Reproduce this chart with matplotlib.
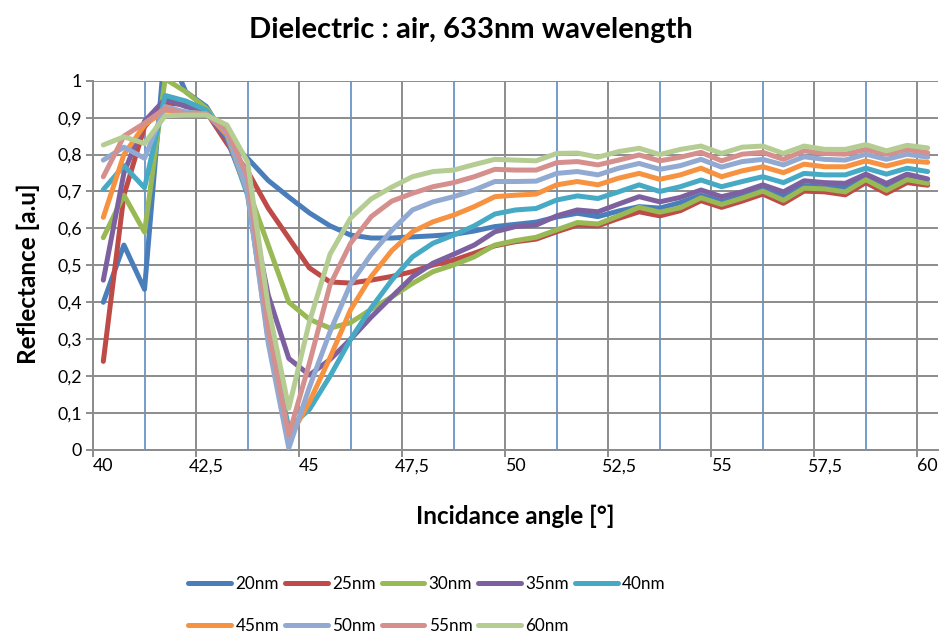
import matplotlib
matplotlib.use("Agg")
import matplotlib.pyplot as plt
from matplotlib.ticker import FixedLocator, FuncFormatter, NullFormatter

# ---------------- data ----------------
angles = [40.0, 40.5, 41.0, 41.5, 42.0, 42.5, 43.0, 43.5, 44.0, 44.5,
          45.0, 45.5, 46.0, 46.5, 47.0, 47.5, 48.0, 48.5, 49.0, 49.5,
          50.0, 50.5, 51.0, 51.5, 52.0, 52.5, 53.0, 53.5, 54.0, 54.5,
          55.0, 55.5, 56.0, 56.5, 57.0, 57.5, 58.0, 58.5, 59.0, 59.5, 60.0]

r20 = [0.40, 0.555, 0.435, 1.10, 0.97, 0.93, 0.84, 0.79, 0.73, 0.685,
       0.642, 0.607, 0.582, 0.574, 0.574, 0.577, 0.58, 0.584, 0.593, 0.605,
       0.611, 0.617, 0.631, 0.641, 0.632, 0.647, 0.659, 0.655, 0.67, 0.69,
       0.673, 0.687, 0.705, 0.687, 0.716, 0.712, 0.71, 0.735, 0.71, 0.735, 0.723]
r25 = [0.24, 0.69, 0.875, 0.94, 0.935, 0.915, 0.83, 0.755, 0.655, 0.574,
       0.493, 0.455, 0.452, 0.46, 0.47, 0.483, 0.501, 0.514, 0.533, 0.553,
       0.564, 0.571, 0.591, 0.609, 0.607, 0.627, 0.645, 0.634, 0.648, 0.675,
       0.657, 0.674, 0.693, 0.668, 0.701, 0.699, 0.691, 0.724, 0.695, 0.724, 0.717]
r30 = [0.575, 0.69, 0.59, 1.005, 0.97, 0.925, 0.85, 0.71, 0.555, 0.40,
       0.354, 0.33, 0.345, 0.381, 0.415, 0.451, 0.483, 0.501, 0.523, 0.555,
       0.567, 0.576, 0.596, 0.616, 0.612, 0.634, 0.657, 0.644, 0.656, 0.683,
       0.665, 0.682, 0.701, 0.676, 0.709, 0.707, 0.699, 0.732, 0.703, 0.732, 0.722]
r35 = [0.46, 0.75, 0.89, 0.95, 0.93, 0.915, 0.84, 0.70, 0.42, 0.248,
       0.203, 0.245, 0.30, 0.36, 0.415, 0.469, 0.506, 0.53, 0.555, 0.591,
       0.605, 0.609, 0.634, 0.65, 0.645, 0.666, 0.686, 0.672, 0.684, 0.704,
       0.686, 0.699, 0.718, 0.699, 0.729, 0.724, 0.722, 0.747, 0.722, 0.747, 0.734]
r40 = [0.705, 0.77, 0.71, 0.96, 0.945, 0.92, 0.85, 0.69, 0.32, 0.06,
       0.11, 0.20, 0.30, 0.385, 0.46, 0.523, 0.56, 0.582, 0.607, 0.639,
       0.65, 0.654, 0.677, 0.688, 0.681, 0.699, 0.718, 0.70, 0.713, 0.731,
       0.713, 0.727, 0.74, 0.724, 0.749, 0.745, 0.745, 0.763, 0.747, 0.763, 0.754]
r45 = [0.63, 0.80, 0.88, 0.92, 0.915, 0.91, 0.855, 0.70, 0.30, 0.03,
       0.13, 0.25, 0.38, 0.47, 0.54, 0.591, 0.618, 0.636, 0.659, 0.686,
       0.69, 0.693, 0.718, 0.727, 0.718, 0.736, 0.749, 0.733, 0.745, 0.763,
       0.74, 0.756, 0.767, 0.751, 0.774, 0.767, 0.767, 0.783, 0.769, 0.783, 0.779]
r50 = [0.785, 0.82, 0.79, 0.93, 0.915, 0.91, 0.86, 0.70, 0.29, 0.005,
       0.17, 0.32, 0.45, 0.53, 0.595, 0.65, 0.672, 0.686, 0.704, 0.727,
       0.727, 0.728, 0.749, 0.754, 0.745, 0.763, 0.776, 0.76, 0.77, 0.787,
       0.766, 0.781, 0.787, 0.772, 0.794, 0.787, 0.785, 0.801, 0.787, 0.801, 0.793]
r55 = [0.74, 0.85, 0.885, 0.925, 0.91, 0.91, 0.865, 0.74, 0.33, 0.04,
       0.235, 0.447, 0.56, 0.632, 0.674, 0.695, 0.713, 0.724, 0.74, 0.76,
       0.758, 0.758, 0.778, 0.781, 0.772, 0.785, 0.799, 0.783, 0.793, 0.806,
       0.783, 0.801, 0.806, 0.787, 0.81, 0.803, 0.801, 0.814, 0.801, 0.814, 0.805]
r60 = [0.826, 0.848, 0.83, 0.905, 0.907, 0.907, 0.88, 0.78, 0.39, 0.113,
       0.347, 0.53, 0.628, 0.68, 0.712, 0.74, 0.754, 0.758, 0.773, 0.787,
       0.785, 0.783, 0.803, 0.804, 0.793, 0.808, 0.817, 0.80, 0.814, 0.823,
       0.803, 0.82, 0.823, 0.803, 0.823, 0.814, 0.814, 0.827, 0.81, 0.825, 0.818]

series_labels = ["20nm", "25nm", "30nm", "35nm", "40nm", "45nm", "50nm", "55nm", "60nm"]
series_values = [r20, r25, r30, r35, r40, r45, r50, r55, r60]
series_colors = ["#4A7EBB", "#BE4B48", "#98B954", "#7D60A0", "#46AAC5",
                 "#F69240", "#92AAD1", "#D5908E", "#B5CD93"]

x_tick_labels = [40, 42.5, 45, 47.5, 50, 52.5, 55, 57.5, 60]
y_ticks = [0.0, 0.1, 0.2, 0.3, 0.4, 0.5, 0.6, 0.7, 0.8, 0.9, 1.0]
x_grid = [39.75, 42.25, 44.75, 47.25, 49.75, 52.25, 54.75, 57.25, 59.75]
x_blue = [41.0, 43.5, 46.0, 48.5, 51.0, 53.5, 56.0, 58.5]

# ---------------- figure ----------------
plt.rcParams["font.family"] = ["Lato", "DejaVu Sans"]
W, H = 942, 635
fig = plt.figure(figsize=(W / 100, H / 100), dpi=100)
left, right, top, bottom = 93, 938, 80.7, 450
ax = fig.add_axes([left / W, 1 - bottom / H, (right - left) / W, (bottom - top) / H])

gray = "#8C8C8C"
ax.set_xlim(39.75, 60.25)
ax.set_ylim(0, 1)

ax.xaxis.set_major_locator(FixedLocator(x_grid))
ax.xaxis.set_major_formatter(NullFormatter())
ax.xaxis.set_minor_locator(FixedLocator(x_tick_labels))
ax.xaxis.set_minor_formatter(FuncFormatter(lambda v, p: ("%g" % v).replace(".", ",")))
ax.yaxis.set_major_locator(FixedLocator(y_ticks))
ax.yaxis.set_major_formatter(FuncFormatter(lambda v, p: ("%g" % round(v, 2)).replace(".", ",")))

ax.grid(True, which="major", color=gray, lw=1.4, zorder=0)
ax.set_axisbelow(True)
for xb in x_blue:
    ax.axvline(xb, color="#4F81BD", lw=1.1, zorder=0.5)

ax.tick_params(axis="x", which="major", length=5, width=1.4, color=gray, direction="out")
ax.tick_params(axis="x", which="minor", length=0, pad=6, labelsize=12.8)
ax.tick_params(axis="y", which="major", length=5, width=1.4, color=gray, pad=3, labelsize=12.8)

for s in ["top", "right"]:
    ax.spines[s].set_visible(False)
for s in ["left", "bottom"]:
    ax.spines[s].set_color(gray)
    ax.spines[s].set_linewidth(1.4)

handles = []
for lab, vals, col in zip(series_labels, series_values, series_colors):
    h, = ax.plot(angles, vals, color=col, lw=3.6, label=lab,
                 solid_joinstyle="round", solid_capstyle="round", zorder=3)
    handles.append(h)

# titles
fig.text(471 / W, 1 - 30 / H, "Dielectric : air, 633nm wavelength",
         ha="center", va="center", fontsize=21, fontweight="bold")
fig.text(515 / W, 1 - 516 / H, "Incidance angle [°]",
         ha="center", va="center", fontsize=17.5, fontweight="bold")
fig.text(28 / W, 1 - 274 / H, "Reflectance [a.u]", rotation=90,
         ha="center", va="center", fontsize=17.5, fontweight="bold")

# legend (row-major order across 5 columns)
order = [0, 5, 1, 6, 2, 7, 3, 8, 4]
leg = fig.legend([handles[i] for i in order], [series_labels[i] for i in order],
                 ncol=5, loc="center", bbox_to_anchor=(427 / W, 1 - 605 / H),
                 frameon=False, fontsize=12.3, handlelength=2.5, handletextpad=0.25,
                 columnspacing=0.35, labelspacing=1.5, borderpad=0)

fig.savefig("out.png", dpi=100)
